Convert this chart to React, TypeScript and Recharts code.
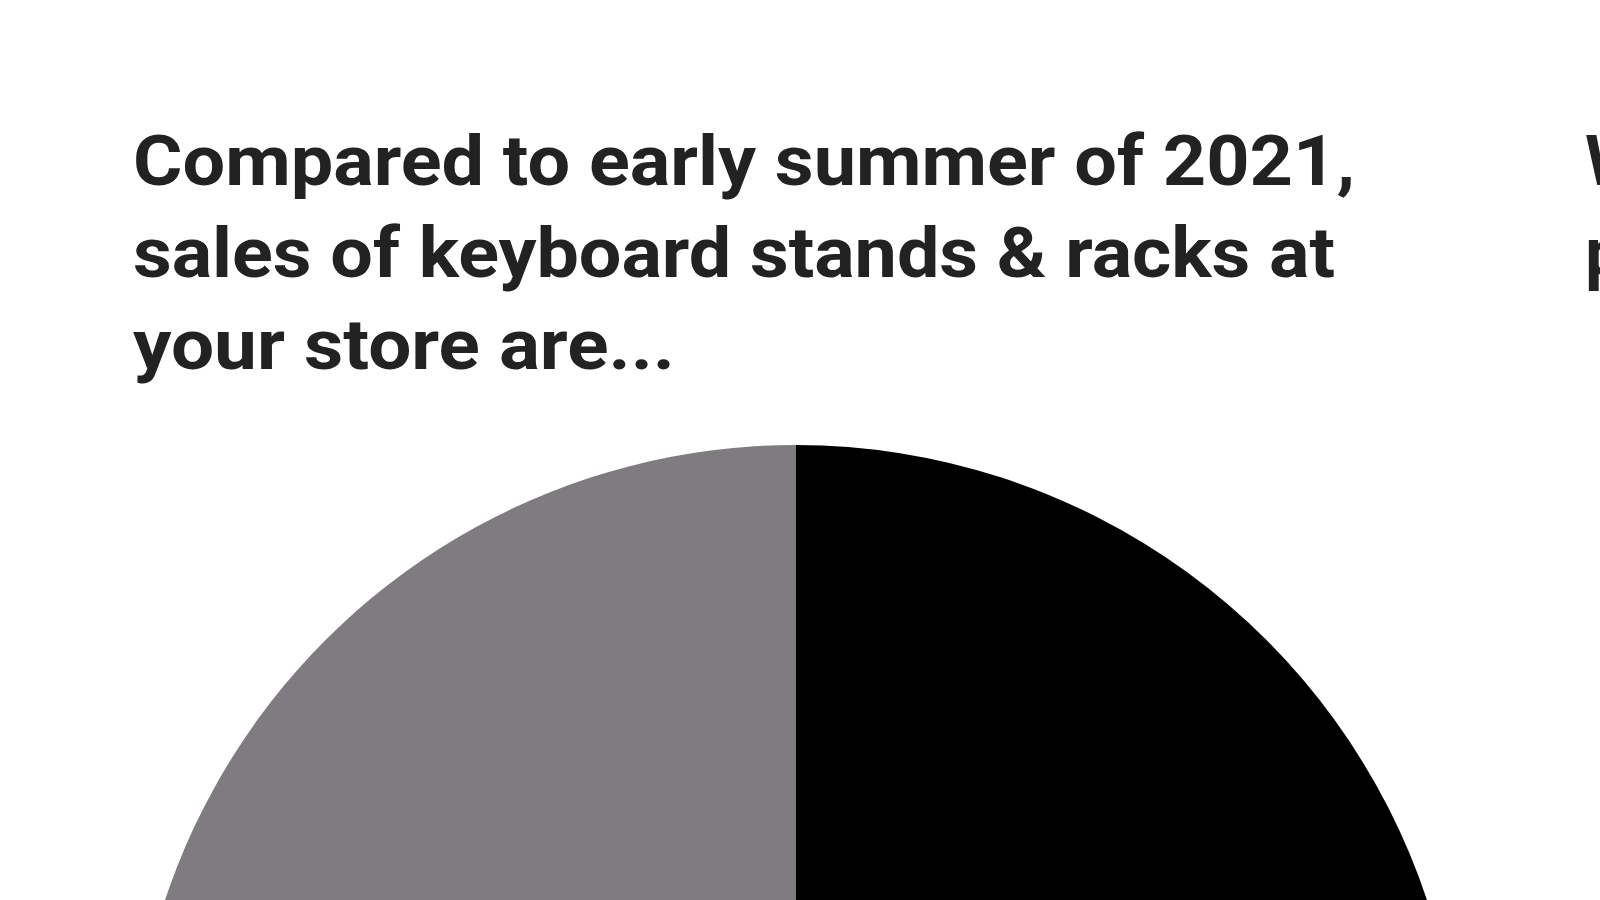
import React from "react";
import { PieChart, Pie, Cell } from "recharts";

const categories = ["Up", "About the same", "Down"];
const shares = [40, 28, 32];
const sliceColors = ["#000000", "#b5b3b5", "#7f7c7f"];

const titleLines = [
  "Compared to early summer of 2021,",
  "sales of keyboard stands & racks at",
  "your store are...",
];
const titleWidths = [1222, 1202, 542];
const nextTitleLines = ["Which", "products"];

const data = categories.map((name, i) => ({ name, value: shares[i] }));

export default function App() {
  return (
    <div style={{ position: "absolute", left: 0, top: 0, width: 1600, height: 900, background: "#fff", overflow: "hidden" }}>
      <PieChart width={1600} height={900}>
        <Pie
          data={data}
          dataKey="value"
          nameKey="name"
          cx={791}
          cy={1105}
          outerRadius={665}
          innerRadius={0}
          startAngle={90}
          endAngle={-270}
          stroke="none"
          isAnimationActive={false}
        >
          {data.map((d, i) => (
            <Cell key={d.name} fill={sliceColors[i]} />
          ))}
        </Pie>
      </PieChart>
      <svg width={1600} height={900} style={{ position: "absolute", left: 0, top: 0 }}>
        {titleLines.map((t, i) => (
          <text
            key={t}
            x={133}
            y={185 + i * 92}
            fontFamily="Roboto, sans-serif"
            fontWeight={700}
            fontSize={70}
            fill="#222"
            textLength={titleWidths[i]}
            lengthAdjust="spacingAndGlyphs"
          >
            {t}
          </text>
        ))}
        {nextTitleLines.map((t, i) => (
          <text
            key={t}
            x={1585}
            y={185 + i * 92}
            fontFamily="Roboto, sans-serif"
            fontWeight={700}
            fontSize={70}
            fill="#222"
          >
            {t}
          </text>
        ))}
      </svg>
    </div>
  );
}
